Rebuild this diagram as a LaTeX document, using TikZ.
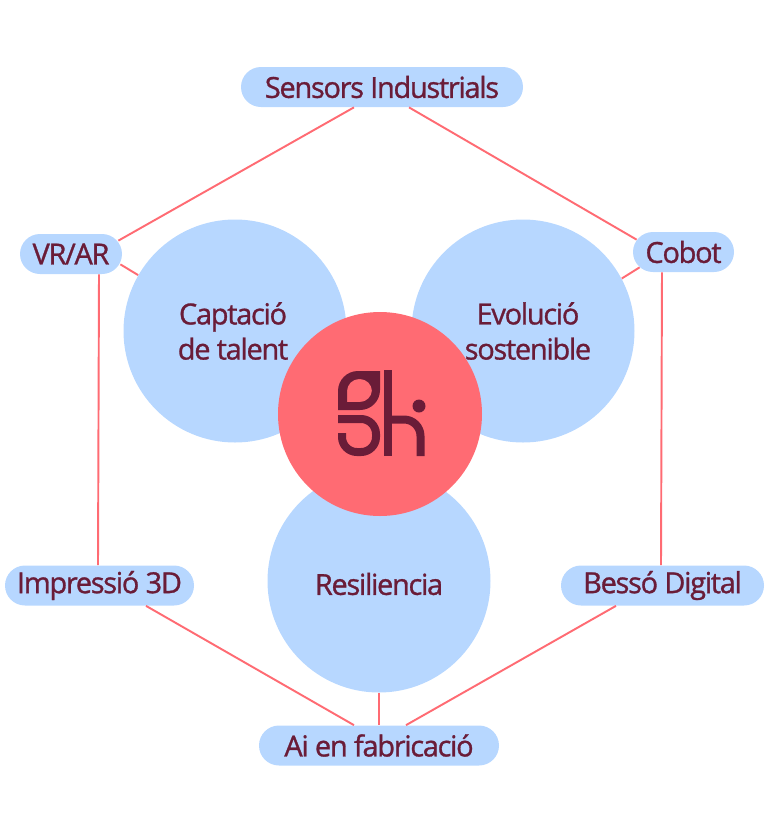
\documentclass[tikz,border=0pt]{standalone}
\usepackage{fontspec}
\setmainfont[LetterSpace=-4.5,FakeBold=1]{Open Sans}
\usetikzlibrary{calc}
\definecolor{PillClr}{HTML}{B7D7FF}
\definecolor{CoralClr}{HTML}{FF6B73}
\definecolor{TextClr}{HTML}{6A1C38}
\tikzset{
  pill/.style={fill=PillClr,rounded corners=0.4cm,minimum height=40*0.02cm,inner sep=0pt,text=TextClr,font=\fontsize{16.5}{20}\selectfont},
  topic/.style={circle,fill=PillClr,minimum size=223*0.02cm,inner sep=0pt},
  caption/.style={text=TextClr,align=center,inner sep=0pt,font=\fontsize{16.5}{20}\selectfont},
  link/.style={draw=CoralClr,line width=1.1pt},
  logo/.style={draw=TextClr,line width=0.16cm}
}
\begin{document}
\begin{tikzpicture}[x=0.02cm,y=-0.02cm]
\useasboundingbox (0,0) rectangle (768,833);

\node[topic] (capt) at (235,331) {};
\node[topic] (evol) at (523,331) {};
\node[topic] (resil) at (379,581) {};
\node[circle,fill=CoralClr,minimum size=204*0.02cm,inner sep=0pt] (hub) at (380,414) {};

\node[caption] (captT) at (233,331) {Captació\\de talent};
\node[caption] (evolT) at (528,331) {Evolució\\sostenible};
\node[caption] (resilT) at (379,584) {Resiliencia};

\node[pill,minimum width=282*0.02cm] (sensors) at (382,87) {Sensors Industrials};
\node[pill,minimum width=102*0.02cm] (vrar) at (71,254) {VR/AR};
\node[pill,minimum width=101*0.02cm] (cobot) at (683.5,252) {Cobot};
\node[pill,minimum width=189*0.02cm] (impr) at (99.5,585.5) {Impressió 3D};
\node[pill,minimum width=203*0.02cm] (besso) at (662.5,585.5) {Bessó Digital};
\node[pill,minimum width=240*0.02cm] (ai) at (379,745.5) {Ai en fabricació};

% connectors
\draw[link] ($(sensors.south)+(-28,0)$) -- ($(vrar.north east)+(-4,7)$);
\draw[link] ($(sensors.south)+(27,0)$) -- ($(cobot.north west)+(4,8)$);
\draw[link] ($(vrar.south)+(28,0)$) -- ($(impr.north)+(-1.5,0)$);
\draw[link] ($(cobot.south)+(-21.5,0)$) -- ($(besso.north)+(-1.5,0)$);
\draw[link] ($(impr.south)+(46.5,0)$) -- ($(ai.north)+(-25,0)$);
\draw[link] ($(besso.south)+(-46.5,0)$) -- ($(ai.north)+(27,0)$);
\draw[link] (resil.south) -- (ai.north);
\draw[link] ($(vrar.south east)+(-2,-10)$) -- (capt.150);
\draw[link] ($(cobot.south west)+(7,-5)$) -- (evol.28);

% logo
\fill[TextClr,even odd rule] (380,371) [rounded corners=0.4cm] -- (338,371) [sharp corners] -- (338,410) [rounded corners=0.4cm] -- (380,410) [sharp corners] -- cycle
  (347,402) [rounded corners=0.24cm] -- (372,402) -- (372,379) -- (347,379) [sharp corners] -- cycle;
\fill[TextClr] (384,370) rectangle (392,456);
\draw[logo,rounded corners=0.3cm] (338,419) -- (376,419) -- (376,452) -- (342,452) -- (342,433);
\draw[logo,rounded corners=0.33cm] (392,419.5) -- (420.5,419.5) -- (420.5,456);
\node[circle,fill=TextClr,minimum size=13*0.02cm,inner sep=0pt] (dot) at (419,406) {};
\end{tikzpicture}
\end{document}
